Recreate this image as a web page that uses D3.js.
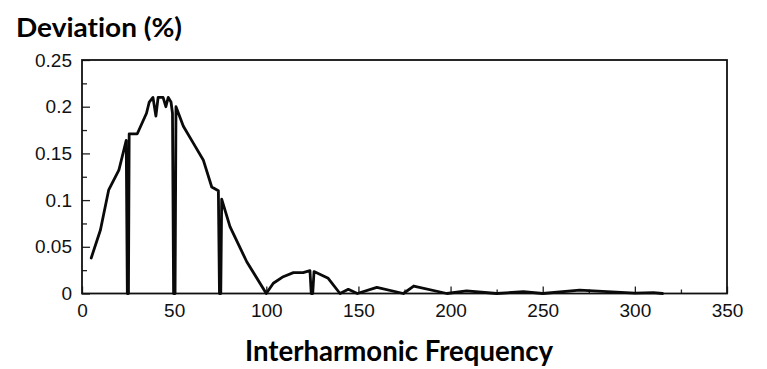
<!DOCTYPE html>
<html>
<head>
<meta charset="utf-8">
<script src="https://cdn.jsdelivr.net/npm/d3@7"></script>
<style>
  body { margin: 0; background: #fff; }
  svg { display: block; }
  text { font-variant-ligatures: none; }
</style>
</head>
<body>
<div id="chart"></div>
<script>
// ===== data =====
var freq = [5, 10, 14.5, 20, 24, 24.6, 25.2, 25.6, 30, 35, 36.5, 38.5, 40.1, 41.3, 44, 45.5, 46.8,
            48.3, 49.1, 49.7, 50.5, 51, 55, 60.4, 65.8, 70.4, 74, 74.6, 75.3, 75.8, 80.3, 89.4,
            100, 103.8, 109.2, 114.7, 120, 123.7, 124.4, 125.2, 125.9, 133.6, 140, 144.5, 149.4,
            160, 174.4, 180, 198, 208.7, 225, 239.5, 250, 270, 300, 310, 315];
var deviation = [0.038, 0.068, 0.111, 0.132, 0.164, 0, 0, 0.171, 0.171, 0.193, 0.205, 0.21, 0.19, 0.21, 0.21, 0.2, 0.21,
                 0.205, 0.193, 0, 0, 0.2, 0.179, 0.161, 0.143, 0.114, 0.11, 0, 0, 0.101, 0.0715, 0.034,
                 0, 0.011, 0.018, 0.0223, 0.0223, 0.0244, 0, 0, 0.0235, 0.0163, 0, 0.0045, 0,
                 0.0066, 0, 0.008, 0, 0.0027, 0, 0.002, 0, 0.0037, 0.0003, 0.001, 0];

var xTicks = [0, 50, 100, 150, 200, 250, 300, 350];
var xMinor = [25, 75, 125, 175, 225, 275, 325];
var yTicks = [0, 0.05, 0.1, 0.15, 0.2, 0.25];
var yTickLabels = ["0", "0.05", "0.1", "0.15", "0.2", "0.25"];
var yMinor = [0.025, 0.075, 0.125, 0.175, 0.225];

// ===== chart =====
function draw()
{
  var w = 767;
  var h = 369;
  var left = 82, right = 727, top = 60, bottom = 293.5;

  var svg = d3.select("#chart")
              .append("svg")
              .attr("width", w)
              .attr("height", h);

  var x = d3.scaleLinear().domain([0, 350]).range([left, right]);
  var y = d3.scaleLinear().domain([0, 0.25]).range([bottom, top]);

  // minor ticks (inward, no labels)
  svg.append("g")
     .attr("transform", "translate(0," + bottom + ")")
     .call(d3.axisBottom(x).tickValues(xMinor).tickSize(-4).tickFormat(""))
     .call(function(g) { g.select(".domain").remove(); });
  svg.append("g")
     .attr("transform", "translate(" + left + ",0)")
     .call(d3.axisLeft(y).tickValues(yMinor).tickSize(-5).tickFormat(""))
     .call(function(g) { g.select(".domain").remove(); });

  // major ticks with labels
  var xAxis = svg.append("g")
     .attr("transform", "translate(0," + bottom + ")")
     .call(d3.axisBottom(x).tickValues(xTicks).tickSize(-7).tickPadding(10));
  xAxis.select(".domain").remove();

  var yAxis = svg.append("g")
     .attr("transform", "translate(" + left + ",0)")
     .call(d3.axisLeft(y).tickValues(yTicks).tickSize(-8).tickPadding(10)
             .tickFormat(function(d, i) { return yTickLabels[i]; }));
  yAxis.select(".domain").remove();

  svg.selectAll(".tick line").attr("stroke", "#222").attr("stroke-width", 1.3);
  svg.selectAll(".tick text")
     .attr("font-family", "'Liberation Sans', Arial, sans-serif")
     .attr("font-size", "19px")
     .attr("fill", "#111");

  // frame
  svg.append("rect")
     .attr("x", left)
     .attr("y", top)
     .attr("width", right - left)
     .attr("height", bottom - top)
     .attr("fill", "none")
     .attr("stroke", "#111")
     .attr("stroke-width", 1.8);

  // the curve
  var line = d3.line()
               .x(function(d, i) { return x(freq[i]); })
               .y(function(d) { return y(d); });

  svg.append("path")
     .datum(deviation)
     .attr("d", line)
     .attr("fill", "none")
     .attr("stroke", "#0a0a0a")
     .attr("stroke-width", 2.8)
     .attr("stroke-linejoin", "round")
     .attr("stroke-linecap", "round");

  // titles
  svg.append("text")
     .attr("x", 16)
     .attr("y", 37)
     .attr("font-family", "Lato, 'Open Sans', sans-serif")
     .attr("font-weight", "bold")
     .attr("font-size", "26px")
     .attr("textLength", 166)
     .attr("lengthAdjust", "spacingAndGlyphs")
     .attr("fill", "#000")
     .text("Deviation (%)");

  svg.append("text")
     .attr("x", 245)
     .attr("y", 361)
     .attr("font-family", "Lato, 'Open Sans', sans-serif")
     .attr("font-weight", "bold")
     .attr("font-size", "28px")
     .attr("textLength", 308)
     .attr("lengthAdjust", "spacingAndGlyphs")
     .attr("fill", "#000")
     .text("Interharmonic Frequency");
}

window.onload = draw;
</script>
</body>
</html>
